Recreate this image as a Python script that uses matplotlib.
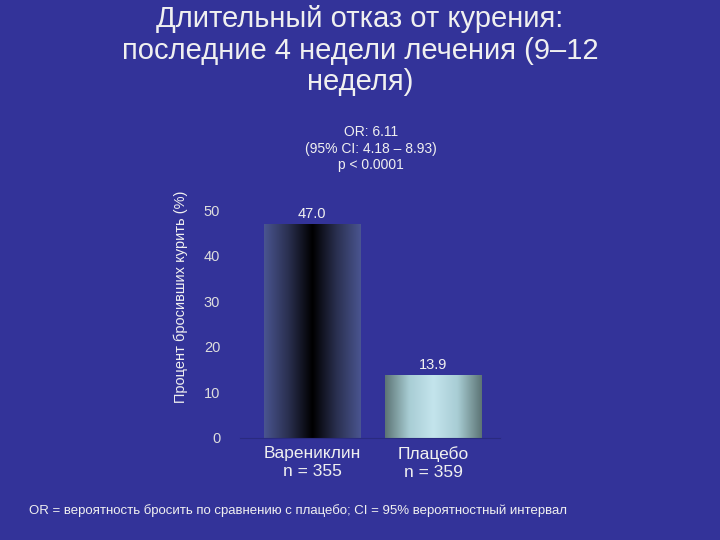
import numpy as np
import matplotlib.pyplot as plt
from matplotlib.colors import LinearSegmentedColormap

plt.rcParams['font.family'] = ['Liberation Sans', 'DejaVu Sans']

categories = ["Варениклин\nn = 355", "Плацебо\nn = 359"]
values = [47.0, 13.9]
value_labels = ["47.0", "13.9"]
yticks = [0, 10, 20, 30, 40, 50]

BG = "#333399"
FG = "#f0f0f0"

fig = plt.figure(figsize=(7.2, 5.4), dpi=100, facecolor=BG)
ax = fig.add_axes([0.333, 0.189, 0.361, 0.422], facecolor=BG)

x = np.array([0, 1])
bars = ax.bar(x, values, width=0.8, color="none", edgecolor="none")

cmaps = [
    LinearSegmentedColormap.from_list("var", ["#4a5590", "#2a3050", "#000000", "#2a3050", "#4a5590"]),
    LinearSegmentedColormap.from_list("pla", ["#5c7474", "#a8cdd4", "#c4e4ec", "#a8cdd4", "#5c7474"]),
]
grad = np.linspace(0, 1, 256).reshape(1, -1)
for b, cm in zip(bars, cmaps):
    x0, w, h = b.get_x(), b.get_width(), b.get_height()
    im = ax.imshow(grad, cmap=cm, aspect="auto", extent=[x0, x0 + w, 0, h], zorder=2)
    im.set_clip_path(b)

for xi, v, lab in zip(x, values, value_labels):
    ax.text(xi, v + 0.5, lab, ha="center", va="bottom", color=FG, fontsize=10.5)

ax.set_xlim(-0.6, 1.55)
ax.set_ylim(0, 50)
ax.set_yticks(yticks)
ax.set_xticks(x)
ax.set_xticklabels(categories, fontsize=12.5, color=FG)
ax.tick_params(axis="y", colors="#dddddd", labelsize=10.5, length=0, pad=14)
ax.tick_params(axis="x", length=0, pad=6)
for s in ["top", "right", "left"]:
    ax.spines[s].set_visible(False)
ax.spines["bottom"].set_color("#2a2a80")
ax.set_ylabel("Процент бросивших курить (%)", color=FG, fontsize=10.5, labelpad=4)
ax.yaxis.set_label_coords(-0.2, 0.62)

fig.text(0.5, 0.99, "Длительный отказ от курения:\nпоследние 4 недели лечения (9–12\nнеделя)",
         ha="center", va="top", color=FG, fontsize=21, linespacing=1.15)
fig.text(0.515, 0.725, "OR: 6.11\n(95% CI: 4.18 – 8.93)\np < 0.0001",
         ha="center", va="center", color=FG, fontsize=10, linespacing=1.2)
fig.text(0.04, 0.055, "OR = вероятность бросить по сравнению с плацебо; CI = 95% вероятностный интервал",
         ha="left", va="center", color=FG, fontsize=9.5)

fig.savefig("out.png", dpi=100, facecolor=BG)
